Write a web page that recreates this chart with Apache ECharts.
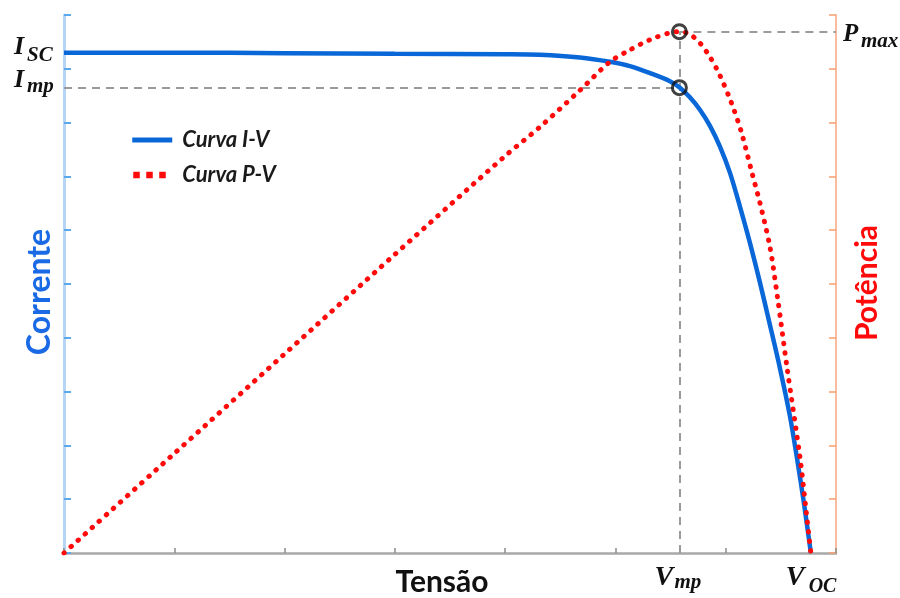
<!DOCTYPE html>
<html>
<head>
<meta charset="utf-8">
<script src="https://cdn.jsdelivr.net/npm/echarts@6/dist/echarts.min.js"></script>
<style>
html,body{margin:0;padding:0;background:#fff;}
#chart{width:900px;height:598px;}
</style>
</head>
<body>
<div id="chart"></div>
<script>
// ---- data ----
const ivVoltage = [0, 1, 2, 3, 4, 4.316, 4.678, 4.95, 5.131, 5.313, 5.494, 5.585, 5.675, 5.766, 5.857, 5.947, 6.038, 6.129, 6.219, 6.31, 6.401, 6.491, 6.582, 6.645, 6.709, 6.772];
const ivCurrent = [9.30, 9.30, 9.29, 9.28, 9.27, 9.26, 9.21, 9.13, 9.05, 8.92, 8.77, 8.65, 8.47, 8.24, 7.94, 7.56, 7.07, 6.44, 5.77, 5.03, 4.24, 3.44, 2.55, 1.78, 0.93, 0];
const pvVoltage = [0, 1, 2, 3, 4, 4.316, 4.678, 4.95, 5.131, 5.313, 5.494, 5.585, 5.675, 5.766, 5.857, 5.947, 6.053, 6.144, 6.235, 6.31, 6.401, 6.473, 6.555, 6.673, 6.723, 6.772];
const pvPower   = [0, 1.85, 3.70, 5.55, 7.38, 7.92, 8.60, 9.13, 9.35, 9.54, 9.67, 9.69, 9.64, 9.48, 9.22, 8.88, 8.36, 7.81, 7.09, 6.51, 5.69, 4.70, 3.46, 1.78, 0.89, 0];
const mppVoltage = 5.58;
const mppCurrent = 8.65;
const maxPower = 9.69;
const shortCircuitCurrent = 9.30;
const openCircuitVoltage = 6.77;
const seriesNames = ['Curva I-V', 'Curva P-V'];
const axisNames = { x: 'Tensão', left: 'Corrente', right: 'Potência' };
const xRange = [0, 7];
const yRange = [0, 10];

const ivData = ivVoltage.map((v, i) => [v, ivCurrent[i]]);
const pvData = pvVoltage.map((v, i) => [v, pvPower[i]]);

const chart = echarts.init(document.getElementById('chart'), null, { renderer: 'canvas' });

const blue = '#0a67d8';
const red = '#ff0a0a';
const dashStyle = { color: '#9a9a9a', width: 2, type: [8, 6] };

const option = {
  animation: false,
  backgroundColor: '#fff',
  grid: { left: 64, right: 64, top: 15, bottom: 45, containLabel: false },
  legend: {
    orient: 'vertical',
    left: 124,
    top: 124,
    itemWidth: 40,
    itemHeight: 20,
    itemGap: 13,
    itemStyle: { opacity: 0 },
    data: [
      { name: seriesNames[0], lineStyle: { width: 5, color: blue, type: 'solid' } },
      { name: seriesNames[1], lineStyle: { width: 6.5, color: red, type: [6.5, 6.5], dashOffset: -1, cap: 'butt' } }
    ],
    textStyle: { fontFamily: 'Lato', fontWeight: 'bold', fontStyle: 'italic', fontSize: 22, color: '#1a1a1a', padding: [0, 0, 0, 5] }
  },
  xAxis: {
    type: 'value', min: xRange[0], max: xRange[1], interval: 1,
    axisLine: { show: true, lineStyle: { color: '#a8a8a8', width: 2.5 } },
    axisTick: { show: true, inside: true, length: 5, lineStyle: { color: '#8c8c8c', width: 1.5 } },
    axisLabel: { show: false },
    splitLine: { show: false }
  },
  yAxis: [
    {
      type: 'value', min: yRange[0], max: yRange[1], interval: 1, position: 'left',
      axisLine: { show: true, lineStyle: { color: '#b5d5f6', width: 3 } },
      axisTick: { show: true, inside: true, length: 7, lineStyle: { color: '#5aa9ec', width: 2 } },
      axisLabel: { show: false },
      splitLine: { show: false }
    },
    {
      type: 'value', min: yRange[0], max: yRange[1], interval: 1, position: 'right',
      axisLine: { show: true, lineStyle: { color: '#f9bc9c', width: 2 } },
      axisTick: { show: true, inside: true, length: 7, lineStyle: { color: '#f5a070', width: 1.5 } },
      axisLabel: { show: false },
      splitLine: { show: false }
    }
  ],
  series: [
    {
      name: seriesNames[0], type: 'line', yAxisIndex: 0, data: ivData,
      symbol: 'none', smooth: 0.3, z: 3,
      lineStyle: { color: blue, width: 4.5 },
      itemStyle: { color: blue },
      markLine: {
        silent: true, symbol: 'none', label: { show: false }, z: 1,
        lineStyle: dashStyle,
        data: [
          [{ coord: [xRange[0], mppCurrent] }, { coord: [mppVoltage, mppCurrent] }]
        ]
      }
    },
    {
      name: seriesNames[1], type: 'line', yAxisIndex: 1, data: pvData,
      symbol: 'none', smooth: 0.3, z: 4,
      lineStyle: { color: red, width: 5, type: [0.5, 9], cap: 'round' },
      itemStyle: { color: red },
      markLine: {
        silent: true, symbol: 'none', label: { show: false }, z: 1,
        lineStyle: dashStyle,
        data: [
          [{ coord: [mppVoltage, yRange[0]] }, { coord: [mppVoltage, maxPower] }],
          [{ coord: [mppVoltage, maxPower] }, { coord: [xRange[1], maxPower] }]
        ]
      }
    },
    {
      type: 'scatter', yAxisIndex: 0, z: 6, silent: true,
      data: [[mppVoltage, mppCurrent], [mppVoltage, maxPower]],
      symbol: 'circle', symbolSize: 14,
      itemStyle: { color: 'rgba(0,0,0,0)', borderColor: '#111', borderWidth: 3 }
    }
  ]
};
chart.setOption(option);

// ---- text labels placed from the axis scales ----
const px = (x, y) => chart.convertToPixel({ xAxisIndex: 0, yAxisIndex: 0 }, [x, y]);
const leftX = px(xRange[0], 0)[0];
const rightX = px(xRange[1], 0)[0];
const bottomY = px(0, yRange[0])[1];
const topY = px(0, yRange[1])[1];
const iscY = px(0, shortCircuitCurrent)[1];
const impY = px(0, mppCurrent)[1];
const pmaxY = px(0, maxPower)[1];
const vmpX = px(mppVoltage, 0)[0];
const vocX = px(openCircuitVoltage, 0)[0];

const serif = (size) => 'italic bold ' + size + 'px "Liberation Serif", serif';
const sans = (size) => 'bold ' + size + 'px Lato, "Open Sans", sans-serif';
function txt(x, y, text, font, fill, align, rotation) {
  return {
    type: 'text', x: x, y: y, rotation: rotation || 0, silent: true, z: 10,
    style: { text: text, font: font, fill: fill || '#111', align: align || 'left', textAlign: align || 'left', verticalAlign: 'middle', textVerticalAlign: 'middle' }
  };
}
const graphics = [
  txt(leftX - 50, iscY - 5.5, 'I', serif(26)),
  txt(leftX - 37, iscY + 2.5, 'SC', serif(21)),
  txt(leftX - 50, impY - 7, 'I', serif(26)),
  txt(leftX - 37, impY - 1.5, 'mp', serif(21)),
  txt(rightX + 7, pmaxY + 2.5, 'P', serif(25)),
  txt(rightX + 25, pmaxY + 10, 'max', serif(21)),
  txt(vmpX - 25, bottomY + 24.5, 'V', serif(28)),
  txt(vmpX - 5, bottomY + 30, 'mp', serif(21)),
  txt(vocX - 25, bottomY + 24.5, 'V', serif(28)),
  txt(vocX - 2, bottomY + 33.5, 'OC', serif(20)),
  txt((leftX + rightX) / 2 - 8, bottomY + 29, axisNames.x, sans(30), '#111', 'center'),
  txt(leftX - 24, (topY + bottomY) / 2 + 8, axisNames.left, sans(32), '#1a6ae6', 'center', Math.PI / 2),
  txt(rightX + 31, (topY + bottomY) / 2 - 1, axisNames.right, sans(30), red, 'center', Math.PI / 2)
];
chart.setOption({ graphic: { elements: graphics } });
</script>
</body>
</html>
